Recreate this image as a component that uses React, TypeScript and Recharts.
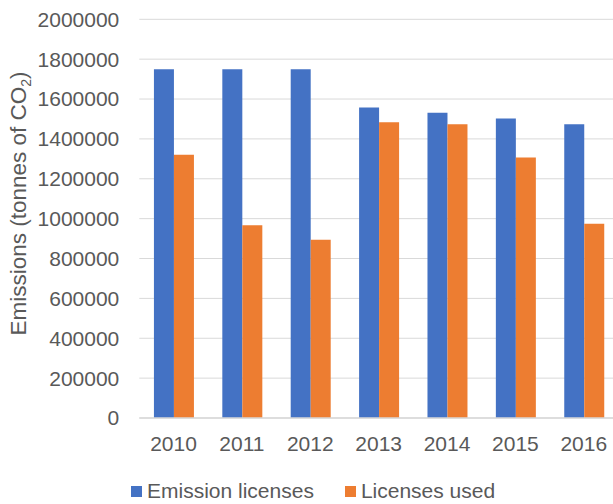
import { BarChart, Bar, XAxis, YAxis, CartesianGrid, Legend } from "recharts";

const years = ["2010", "2011", "2012", "2013", "2014", "2015", "2016"];
const emissionLicenses = [1750000, 1750000, 1750000, 1558000, 1531000, 1503000, 1474000];
const licensesUsed = [1320000, 967000, 894000, 1484000, 1473000, 1307000, 974000];
const yTicks = [0, 200000, 400000, 600000, 800000, 1000000, 1200000, 1400000, 1600000, 1800000, 2000000];

const BLUE = "#4472C4";
const ORANGE = "#ED7D31";
const TEXT = "#595959";
const GRID = "#D9D9D9";
const FONT = '"Liberation Sans", Arial, sans-serif';

const data = years.map((y, i) => ({
  year: y,
  emission: emissionLicenses[i],
  used: licensesUsed[i],
}));

const renderLegend = () => (
  <div
    style={{
      height: 38,
      boxSizing: "border-box",
      paddingTop: 12,
      paddingLeft: 131,
      display: "flex",
      alignItems: "center",
      fontFamily: FONT,
      fontSize: 21,
      color: TEXT,
    }}
  >
    <span style={{ display: "inline-block", width: 11, height: 11, background: BLUE, marginRight: 5 }} />
    <span style={{ marginRight: 31 }}>Emission licenses</span>
    <span style={{ display: "inline-block", width: 11, height: 11, background: ORANGE, marginRight: 5 }} />
    <span>Licenses used</span>
  </div>
);

const YLabel = () => (
  <text
    transform="translate(26, 203.5) rotate(-90)"
    textAnchor="middle"
    fontFamily={FONT}
    fontSize={22.5}
    fill={TEXT}
  >
    Emissions (tonnes of CO
    <tspan fontSize={14} dy={5}>2</tspan>
    <tspan dy={-5}>)</tspan>
  </text>
);

export default function App() {
  return (
    <div style={{ position: "absolute", left: 0, top: 0, width: 613, height: 504, overflow: "hidden", background: "#fff" }}>
      <BarChart
        width={618}
        height={504}
        data={data}
        margin={{ top: 19.3, right: 0, bottom: 0, left: 0 }}
        barCategoryGap="21.4%"
        barGap={0}
      >
        <CartesianGrid vertical={false} stroke={GRID} strokeWidth={1} />
        <XAxis
          dataKey="year"
          height={48}
          axisLine={{ stroke: GRID, strokeWidth: 1.3 }}
          tickLine={false}
          tickSize={0}
          tickMargin={18}
          tick={{ fill: TEXT, fontSize: 21, fontFamily: FONT }}
        />
        <YAxis
          width={139.3}
          domain={[0, 2000000]}
          ticks={yTicks}
          axisLine={false}
          tickLine={false}
          tickSize={0}
          tickMargin={20}
          interval={0}
          tick={{ fill: TEXT, fontSize: 21, fontFamily: FONT }}
          label={<YLabel />}
        />
        <Legend verticalAlign="bottom" content={renderLegend} />
        <Bar dataKey="emission" name="Emission licenses" fill={BLUE} isAnimationActive={false} />
        <Bar dataKey="used" name="Licenses used" fill={ORANGE} isAnimationActive={false} />
      </BarChart>
    </div>
  );
}
